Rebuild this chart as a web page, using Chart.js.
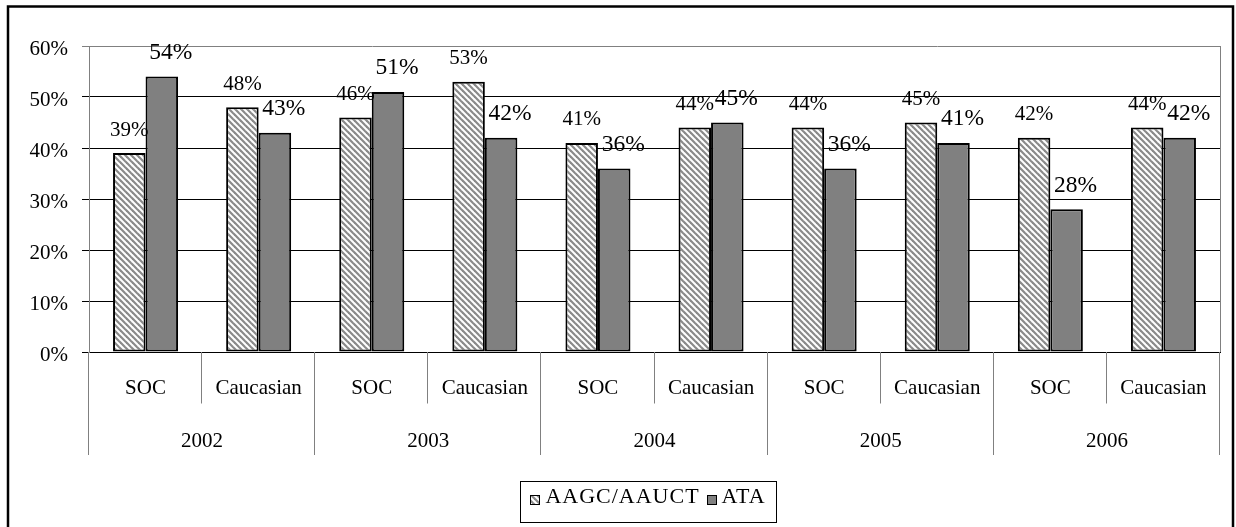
<!DOCTYPE html>
<html>
<head>
<meta charset="utf-8">
<script src="https://cdn.jsdelivr.net/npm/chart.js@4/dist/chart.umd.min.js"></script>
<style>
  html, body { margin: 0; padding: 0; background: #fff; }
  #wrap { width: 1236px; height: 527px; position: relative; }
</style>
</head>
<body>
<div id="wrap"><canvas id="c"></canvas></div>
<script>
// Categories, grouped two per year
const categories = ['SOC', 'Caucasian', 'SOC', 'Caucasian', 'SOC', 'Caucasian', 'SOC', 'Caucasian', 'SOC', 'Caucasian'];
const years = ['2002', '2003', '2004', '2005', '2006'];
const seriesNames = ['AAGC/AAUCT', 'ATA'];
// Percentages per category
const aagcValues = [39, 48, 46, 53, 41, 44, 44, 45, 42, 44];
const ataValues = [54, 43, 51, 42, 36, 45, 36, 41, 28, 42];
const yTicks = [0, 10, 20, 30, 40, 50, 60];

const FONT = '"Liberation Serif", "Times New Roman", serif';

// Diagonal hatch fill for the first series
function makeHatch() {
  const n = 6;
  const t = document.createElement('canvas');
  t.width = n; t.height = n;
  const g = t.getContext('2d');
  g.fillStyle = '#fff';
  g.fillRect(0, 0, n, n);
  g.strokeStyle = '#8a8a8a';
  g.lineWidth = 2.2;
  for (const k of [-n, 0, n]) {
    g.beginPath();
    g.moveTo(k - 1, -1);
    g.lineTo(k + n + 1, n + 1);
    g.stroke();
  }
  return g.createPattern(t, 'repeat');
}
const hatch = makeHatch();

// Value label styling per series
const labelStyle = [
  { size: 21, shift: 0 },
  { size: 23.5, shift: 9 }
];

const decorations = {
  id: 'decorations',
  beforeDatasetsDraw(chart) {
    const { ctx, chartArea: a } = chart;
    const xs = chart.scales.x;
    ctx.save();
    ctx.strokeStyle = '#808080';
    ctx.lineWidth = 1;
    // right edge of the plot area
    ctx.beginPath();
    ctx.moveTo(Math.round(a.right) + 0.5, a.top);
    ctx.lineTo(Math.round(a.right) + 0.5, a.bottom);
    ctx.stroke();
    // category / year separators under the axis
    const mid = xs.top + (xs.bottom - xs.top) / 2;
    for (let b = 0; b <= categories.length; b++) {
      const x = Math.round(xs.getPixelForValue(b - 0.5)) - 0.5;
      const end = b % 2 === 0 ? xs.bottom : mid;
      ctx.beginPath();
      ctx.moveTo(x, a.bottom);
      ctx.lineTo(x, end);
      ctx.stroke();
    }
    ctx.restore();
  },
  afterDatasetsDraw(chart) {
    const ctx = chart.ctx;
    ctx.save();
    ctx.fillStyle = '#000';
    ctx.textAlign = 'center';
    ctx.textBaseline = 'alphabetic';
    chart.data.datasets.forEach((ds, i) => {
      const st = labelStyle[i];
      ctx.font = st.size + 'px ' + FONT;
      chart.getDatasetMeta(i).data.forEach((bar, j) => {
        ctx.fillText(ds.data[j] + '%', bar.x + st.shift, bar.y - 17.5);
      });
    });
    ctx.restore();
  },
  afterDraw(chart) {
    const ctx = chart.ctx;
    const xs = chart.scales.x;
    ctx.save();
    // year labels
    ctx.fillStyle = '#000';
    ctx.font = '21px ' + FONT;
    ctx.textAlign = 'center';
    ctx.textBaseline = 'alphabetic';
    years.forEach((y, k) => {
      ctx.fillText(y, xs.getPixelForValue(2 * k + 0.5), 446.5);
    });

    // legend
    ctx.font = '22px ' + FONT;
    ctx.letterSpacing = '1px';
    ctx.textAlign = 'left';
    const box = 10, gapMark = 5, gapItem = 7, pad = 10.5;
    const items = chart.data.datasets.map(d => ({
      text: d.label, fill: d.backgroundColor, w: ctx.measureText(d.label).width
    }));
    const total = items.reduce((s, it) => s + box + gapMark + it.w, 0) + gapItem * (items.length - 1);
    const cx = 648;
    const left = cx - total / 2;
    ctx.strokeStyle = '#000';
    ctx.lineWidth = 1;
    ctx.strokeRect(Math.round(left - pad) + 0.5, 481.5, Math.round(total + 2 * pad), 41);
    let x = left;
    for (const it of items) {
      const mx = Math.round(x), my = 495;
      ctx.fillStyle = it.fill;
      ctx.fillRect(mx, my, box, box);
      ctx.strokeRect(mx + 0.5, my + 0.5, box - 1, box - 1);
      ctx.fillStyle = '#000';
      ctx.fillText(it.text, x + box + gapMark, 503);
      x += box + gapMark + it.w + gapItem;
    }
    ctx.letterSpacing = '0px';

    // outer frame
    ctx.strokeStyle = '#000';
    ctx.lineWidth = 2.5;
    ctx.strokeRect(8, 6.5, 1225, 540);
    ctx.restore();
  }
};

new Chart(document.getElementById('c'), {
  type: 'bar',
  data: {
    labels: categories,
    datasets: [
      { label: seriesNames[0], data: aagcValues, backgroundColor: hatch,
        borderColor: '#000', borderWidth: 2, borderSkipped: false },
      { label: seriesNames[1], data: ataValues, backgroundColor: '#808080',
        borderColor: '#000', borderWidth: 2, borderSkipped: false }
    ]
  },
  options: {
    responsive: true,
    maintainAspectRatio: false,
    animation: false,
    devicePixelRatio: 1,
    layout: { padding: { left: 10, top: 46, right: 16, bottom: 72 } },
    datasets: { bar: { categoryPercentage: 0.575, barPercentage: 1 } },
    plugins: { legend: { display: false }, tooltip: { enabled: false } },
    scales: {
      x: {
        grid: { display: false, drawTicks: false },
        border: { display: true, color: '#000', width: 1 },
        ticks: { color: '#000', font: { family: FONT, size: 21 }, padding: 24,
                 maxRotation: 0, autoSkip: false },
        afterFit(s) { s.height = 103; }
      },
      y: {
        min: 0, max: 60,
        afterBuildTicks(s) { s.ticks = yTicks.map(v => ({ value: v })); },
        grid: {
          color: c => (c.tick && c.tick.value === 60 ? '#808080' : '#000'),
          lineWidth: 1, tickLength: 7, drawTicks: true
        },
        border: { color: '#808080', width: 1 },
        ticks: { color: '#000', font: { family: FONT, size: 21 }, padding: 14,
                 labelOffset: 3, callback: v => v + '%' },
        afterFit(s) { s.width = 79; }
      }
    }
  },
  plugins: [decorations]
});
</script>
</body>
</html>
